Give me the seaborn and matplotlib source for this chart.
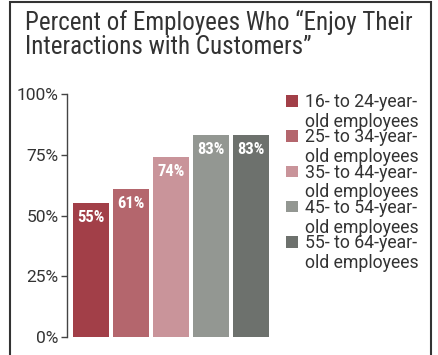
import matplotlib
matplotlib.use("Agg")
import matplotlib.pyplot as plt
import seaborn as sns
import pandas as pd
from matplotlib.patches import Rectangle

groups = ["16- to 24-year-\nold employees", "25- to 34-year-\nold employees",
          "35- to 44-year-\nold employees", "45- to 54-year-\nold employees",
          "55- to 64-year-\nold employees"]
values = [55, 61, 74, 83, 83]
colors = ["#a23f48", "#b4666d", "#c9949a", "#939792", "#6d716d"]
yticks = [0, 25, 50, 75, 100]
title = "Percent of Employees Who \u201cEnjoy Their\nInteractions with Customers\u201d"

sns.set_theme(style="white")
COND = ["Roboto Condensed", "DejaVu Sans"]
REG = ["Roboto", "DejaVu Sans"]
plt.rcParams["font.family"] = COND
TXT = "#333333"

W, H = 438, 355
fig = plt.figure(figsize=(W / 100, H / 100), dpi=100)
fig.patch.set_facecolor("white")

ax = fig.add_axes([67 / W, 18 / H, 205 / W, 243 / H])
df = pd.DataFrame({"group": groups, "value": values})
sns.barplot(data=df, x="group", y="value", hue="group", palette=colors,
            width=0.9, legend=False, saturation=1, edgecolor="none", ax=ax)
ax.set_xlim(-0.6, 4.53)
ax.set_ylim(0, 100)
ax.set_yticks(yticks)
ax.set_yticklabels([f"{v}%" for v in yticks], fontsize=12.5, color=TXT, family=REG)
ax.set_xticks([])
ax.set_xlabel("")
ax.set_ylabel("")
for s in ["top", "right", "bottom"]:
    ax.spines[s].set_visible(False)
ax.spines["left"].set_color("#444444")
ax.spines["left"].set_linewidth(1.0)
ax.tick_params(axis="y", direction="out", length=4, width=1, color="#444444", pad=2, left=True)

for i, v in enumerate(values):
    ax.annotate(f"{v}%", (i, v), xytext=(0, -5), textcoords="offset points",
                ha="center", va="top", color="white", fontsize=12, fontweight="bold")

fig.text(25 / W, 1 - 10 / H, title, ha="left", va="top", fontsize=18,
         color=TXT, linespacing=1.0)

# legend
for i, (g, c) in enumerate(zip(groups, colors)):
    ytop = 95 + i * 35.3
    fig.patches.append(Rectangle((286 / W, 1 - (ytop + 11.5) / H), 11.5 / W, 11.5 / H,
                                 transform=fig.transFigure, facecolor=c, edgecolor="none"))
    fig.text(305 / W, 1 - (ytop - 2) / H, g, ha="left", va="top", fontsize=12.7,
             color=TXT, linespacing=1.12, family=REG)

# frame
fig.patches.append(Rectangle((10 / W, -0.05), 421 / W, 1.05 - 1.5 / H,
                             transform=fig.transFigure, facecolor="none",
                             edgecolor="#333333", linewidth=1.5))

fig.savefig("out.png", dpi=100)
